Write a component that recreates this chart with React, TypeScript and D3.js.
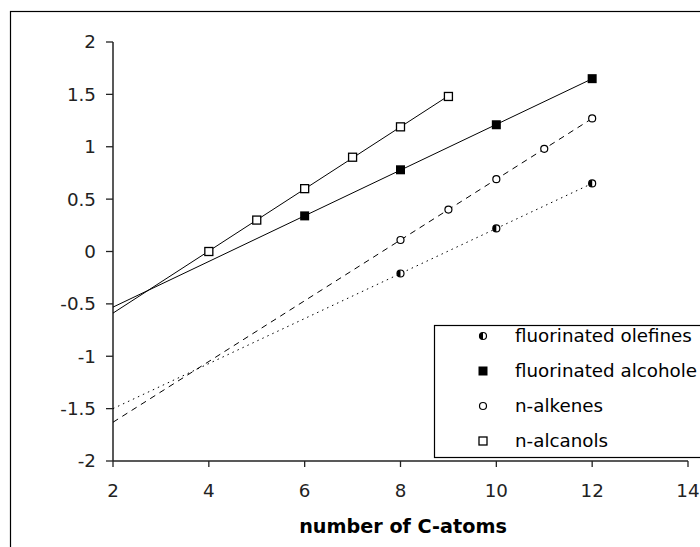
import React from 'react'
import * as d3 from 'd3'

// values
const olefinesX = [8, 10, 12]
const olefinesY = [-0.21, 0.22, 0.65]
const alcoholeX = [6, 8, 10, 12]
const alcoholeY = [0.34, 0.78, 1.21, 1.65]
const alkenesX = [8, 9, 10, 11, 12]
const alkenesY = [0.11, 0.4, 0.69, 0.98, 1.27]
const alcanolsX = [4, 5, 6, 7, 8, 9]
const alcanolsY = [0, 0.3, 0.6, 0.9, 1.19, 1.48]
const xTicks = [2, 4, 6, 8, 10, 12, 14]
const yTicks = [-2, -1.5, -1, -0.5, 0, 0.5, 1, 1.5, 2]
const legendLabels = ['fluorinated olefines', 'fluorinated alcohole', 'n-alkenes', 'n-alcanols']

const W = 700
const H = 547
const font = 'DejaVu Sans, Verdana, sans-serif'

// least squares trend line, backward forecast to x = 2
function trend(xs: number[], ys: number[]) {
  const mx = d3.mean(xs)!
  const my = d3.mean(ys)!
  const sxy = d3.sum(xs, (x, i) => (x - mx) * (ys[i] - my))
  const sxx = d3.sum(xs, x => (x - mx) * (x - mx))
  const b = sxy / sxx
  const a = my - b * mx
  return (x: number) => a + b * x
}

export default function App() {
  const x = d3.scaleLinear().domain([2, 14]).range([113, 688])
  const y = d3.scaleLinear().domain([-2, 2]).range([461, 42])
  const line = d3.line<[number, number]>().x(d => x(d[0])).y(d => y(d[1]))

  const series = [
    { xs: olefinesX, ys: olefinesY, dash: '1.5,4', marker: 'half' },
    { xs: alcoholeX, ys: alcoholeY, dash: null, marker: 'fsquare' },
    { xs: alkenesX, ys: alkenesY, dash: '6,5', marker: 'ocircle' },
    { xs: alcanolsX, ys: alcanolsY, dash: null, marker: 'osquare' },
  ]

  const marker = (kind: string, cx: number, cy: number, key: any) => {
    if (kind === 'osquare')
      return <rect key={key} x={cx - 4} y={cy - 4} width={8} height={8} fill="#fff" stroke="#000" strokeWidth={1.3} />
    if (kind === 'fsquare')
      return <rect key={key} x={cx - 4.5} y={cy - 4.5} width={9} height={9} fill="#000" />
    if (kind === 'ocircle')
      return <circle key={key} cx={cx} cy={cy} r={3.5} fill="#fff" stroke="#000" strokeWidth={1.2} />
    const arc = d3.arc()({ innerRadius: 0, outerRadius: 3.5, startAngle: Math.PI, endAngle: 2 * Math.PI }) as string
    return (
      <g key={key} transform={`translate(${cx},${cy})`}>
        <circle r={3.5} fill="#fff" stroke="#000" strokeWidth={1.2} />
        <path d={arc} fill="#000" />
      </g>
    )
  }

  return (
    <svg width={W} height={H} style={{ position: 'absolute', left: 0, top: 0, background: '#fff' }}>
      <rect x={10.5} y={11.5} width={W + 20} height={H + 20} fill="#fff" stroke="#000" strokeWidth={1.2} />

      {/* axes */}
      <line x1={113} x2={113} y1={y(2)} y2={y(-2)} stroke="#222" strokeWidth={1.5} />
      <line x1={113} x2={x(14)} y1={461} y2={461} stroke="#222" strokeWidth={1.5} />
      {yTicks.map(t => (
        <g key={t}>
          <line x1={106} x2={113} y1={y(t)} y2={y(t)} stroke="#222" strokeWidth={1.3} />
          <text x={96} y={y(t)} dy="0.35em" textAnchor="end" fontFamily={font} fontSize={18.3} fill="#222">
            {t}
          </text>
        </g>
      ))}
      {xTicks.map(t => (
        <g key={t}>
          <line x1={x(t)} x2={x(t)} y1={461} y2={467} stroke="#222" strokeWidth={1.3} />
          <text x={x(t)} y={491} dy="0.35em" textAnchor="middle" fontFamily={font} fontSize={18.3} fill="#222">
            {t}
          </text>
        </g>
      ))}
      <text x={403} y={526} dy="0.35em" textAnchor="middle" fontFamily={font} fontSize={19.2} fontWeight="bold" fill="#000">
        number of C-atoms
      </text>

      {/* trend lines */}
      {series.map((s, i) => {
        const f = trend(s.xs, s.ys)
        const x1 = d3.max(s.xs)!
        return (
          <path key={i} d={line([[2, f(2)], [x1, f(x1)]])!} fill="none" stroke="#000" strokeWidth={1}
            strokeDasharray={s.dash || undefined} />
        )
      })}
      {/* markers */}
      {series.map((s, i) => (
        <g key={i}>{s.xs.map((v, j) => marker(s.marker, x(v), y(s.ys[j]), j))}</g>
      ))}

      {/* legend */}
      <rect x={434.5} y={325.5} width={300} height={132} fill="#fff" stroke="#000" strokeWidth={1.2} />
      {legendLabels.map((l, i) => {
        const ly = 336 + i * 35
        return (
          <g key={l}>
            {marker(series[i].marker, 483, ly, 'm')}
            <text x={515} y={ly} dy="0.35em" fontFamily={font} fontSize={18.3} fill="#000">{l}</text>
          </g>
        )
      })}
    </svg>
  )
}
